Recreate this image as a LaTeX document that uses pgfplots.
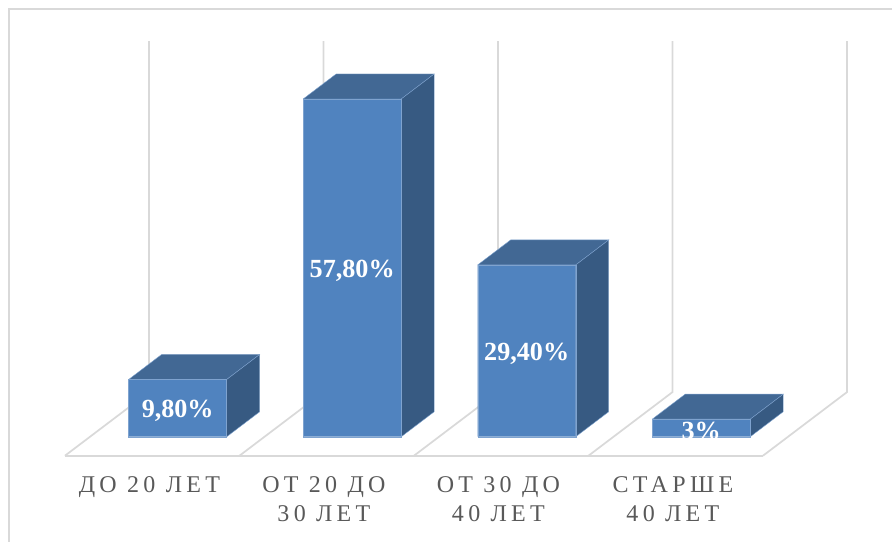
\documentclass[border=0pt]{standalone}
\usepackage{fontspec}
\usepackage{pgfplots}
\pgfplotsset{compat=1.18}
\setmainfont{Liberation Serif}
\newfontfamily\catfont[LetterSpace=18]{Liberation Serif}

\definecolor{gridc}{HTML}{D9D9D9}
\definecolor{frontc}{HTML}{5083BF}
\definecolor{topc}{HTML}{426894}
\definecolor{sidec}{HTML}{375A82}
\definecolor{edgec}{HTML}{7FA3CF}
\definecolor{textc}{HTML}{595959}

\begin{document}
\begin{tikzpicture}
\path[use as bounding box] (0,0) rectangle (669pt,406.5pt);
\begin{axis}[
  at={(0pt,64.7pt)}, anchor=south west,
  scale only axis, width=669pt, height=341.8pt,
  xmin=-1.0183, xmax=4.0934,
  ymin=-3.252, ymax=74.74,
  clip=false, no markers,
  axis line style={draw=none},
  major tick length=0pt,
  ytick=\empty,
  xtick={-0.162,0.838,1.838,2.838},
  xticklabels={ДО 20 ЛЕТ, ОТ 20 ДО\\30 ЛЕТ, ОТ 30 ДО\\40 ЛЕТ, СТАРШЕ\\40 ЛЕТ},
  xticklabel style={align=center, text=textc,
    font=\catfont\fontsize{18}{21.75}\selectfont, yshift=-12.3pt},
]
% outer frame
\addplot[gridc, line width=1.6pt] coordinates {(-0.967,-18.02)(-0.967,73.2)(4.0934,73.2)};
% floor and back walls
\addplot[gridc, line width=1.3pt] coordinates {(-0.646,-3.25)(3.354,-3.25)};
\addplot[gridc, line width=1.3pt] coordinates {(-0.646,-3.25)(-0.164,7.65)(-0.164,67.72)};
\addplot[gridc, line width=1.3pt] coordinates {(0.354,-3.25)(0.836,7.65)(0.836,67.72)};
\addplot[gridc, line width=1.3pt] coordinates {(1.354,-3.25)(1.836,7.65)(1.836,67.72)};
\addplot[gridc, line width=1.3pt] coordinates {(2.354,-3.25)(2.836,7.65)(2.836,67.72)};
\addplot[gridc, line width=1.3pt] coordinates {(3.354,-3.25)(3.836,7.65)(3.836,67.72)};
% tops and sides
\addplot[fill=topc, draw=edgec, line width=.3pt] coordinates {(-0.281,9.8)(0.281,9.8)(0.47,14.08)(-0.092,14.08)(-0.281,9.8)};
\addplot[fill=sidec, draw=edgec, line width=.3pt] coordinates {(0.281,0)(0.47,4.28)(0.47,14.08)(0.281,9.8)(0.281,0)};
\addplot[fill=topc, draw=edgec, line width=.3pt] coordinates {(0.719,57.8)(1.281,57.8)(1.47,62.08)(0.908,62.08)(0.719,57.8)};
\addplot[fill=sidec, draw=edgec, line width=.3pt] coordinates {(1.281,0)(1.47,4.28)(1.47,62.08)(1.281,57.8)(1.281,0)};
\addplot[fill=topc, draw=edgec, line width=.3pt] coordinates {(1.719,29.4)(2.281,29.4)(2.47,33.68)(1.908,33.68)(1.719,29.4)};
\addplot[fill=sidec, draw=edgec, line width=.3pt] coordinates {(2.281,0)(2.47,4.28)(2.47,33.68)(2.281,29.4)(2.281,0)};
\addplot[fill=topc, draw=edgec, line width=.3pt] coordinates {(2.719,3)(3.281,3)(3.47,7.28)(2.908,7.28)(2.719,3)};
\addplot[fill=sidec, draw=edgec, line width=.3pt] coordinates {(3.281,0)(3.47,4.28)(3.47,7.28)(3.281,3)(3.281,0)};
% front faces
\addplot[ybar, bar width=73.5pt, fill=frontc, draw=edgec, line width=.3pt]
  coordinates {(0,9.8)(1,57.8)(2,29.4)(3,3)};
% value labels, centred in the bars
\addplot[draw=none, nodes near coords, point meta=explicit symbolic,
  every node near coord/.style={anchor=center, text=white, yshift=-2pt,
    font=\bfseries\fontsize{19.6}{20}\selectfont}]
  coordinates {(0,4.9)[9,80\%] (1,28.9)[57,80\%] (2,14.7)[29,40\%] (3,1.5)[3\%]};
\end{axis}
\end{tikzpicture}
\end{document}
